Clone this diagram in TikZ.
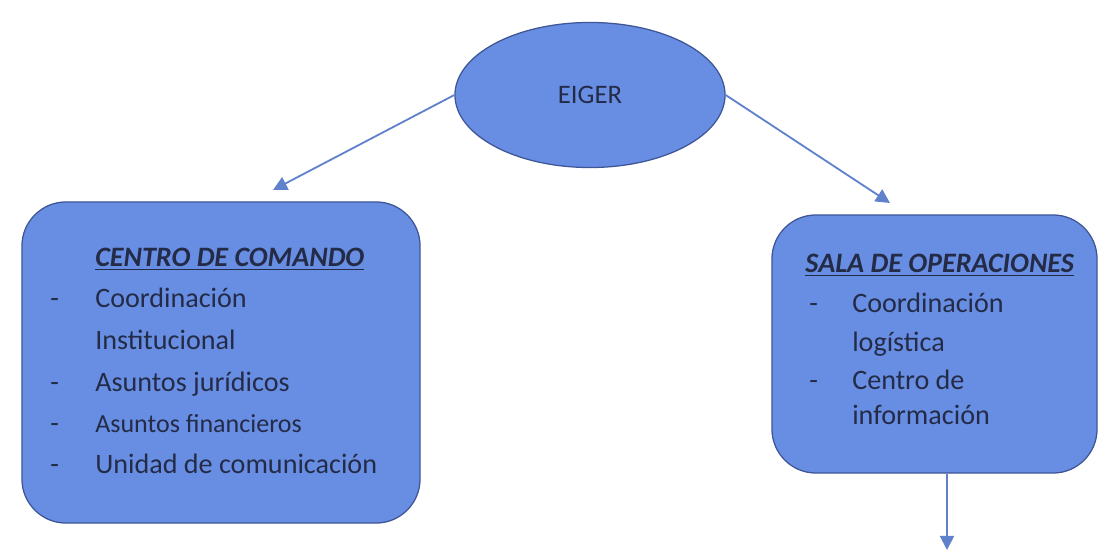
\documentclass[tikz,border=0pt]{standalone}
\usepackage{fontspec}
\setmainfont{Carlito}
\usetikzlibrary{shapes.geometric,arrows.meta}

\definecolor{unitfill}{RGB}{104,142,228}
\definecolor{unitedge}{RGB}{62,86,150}
\definecolor{linkblue}{RGB}{96,130,205}
\definecolor{inktext}{RGB}{36,43,70}

\begin{document}
\begin{tikzpicture}[x=0.025cm, y=-0.025cm]
          \tikzstyle{unit}=[draw=unitedge, fill=unitfill, line width=0.9pt, rounded corners=1.1cm]
          \tikzstyle{entry}=[anchor=base west, inner sep=0pt, text=inktext, font=\fontsize{20}{24}\selectfont]
          \tikzstyle{link}=[draw=linkblue, line width=1.3pt, -{Triangle[length=10pt, width=10pt]}]

          \useasboundingbox (0,0) rectangle (1101,551);

          \node (eiger) at (590,95) [ellipse, draw=unitedge, fill=unitfill, line width=0.9pt,
            minimum width=6.75cm, minimum height=3.625cm, text=inktext,
            font=\fontsize{19}{23}\selectfont] {EIGER};
          \node (cmd) at (221,362.5) [unit, minimum width=9.95cm, minimum height=8.025cm] {};
          \node (ops) at (934.5,344) [unit, minimum width=8.125cm, minimum height=6.45cm] {};

          % centro de comando
          \node (cmdT) at (95,267) [entry] {\textbf{\textit{\underline{CENTRO DE COMANDO}}}};
          \node (cmdD1) at (50,308) [entry] {-};
          \node (cmd1) at (95,308) [entry] {Coordinación};
          \node (cmd2) at (95,350) [entry] {Institucional};
          \node (cmdD3) at (50,392) [entry] {-};
          \node (cmd3) at (95,392) [entry] {Asuntos jurídicos};
          \node (cmdD4) at (50,432) [entry] {-};
          \node (cmd4) at (95,432) [entry, font=\fontsize{18.5}{22}\selectfont] {Asuntos financieros};
          \node (cmdD5) at (50,473) [entry] {-};
          \node (cmd5) at (95,473) [entry] {Unidad de comunicación};

          % sala de operaciones
          \node (opsT) at (805,273) [entry] {\textbf{\textit{\underline{SALA DE OPERACIONES}}}};
          \node (opsD1) at (809,313) [entry] {-};
          \node (ops1) at (852,313) [entry] {Coordinación};
          \node (ops2) at (852,352) [entry] {logística};
          \node (opsD3) at (809,390) [entry] {-};
          \node (ops3) at (852,390) [entry] {Centro de};
          \node (ops4) at (852,425) [entry] {información};

          \coordinate (cmdIn) at (273,190);
          \coordinate (opsIn) at (890,203);
          \coordinate (opsOut) at (947,550);

          \draw[link] (eiger.west) -- (cmdIn);
          \draw[link] (eiger.east) -- (opsIn);
          \draw[link] (ops.south -| opsOut) -- (opsOut);
        \end{tikzpicture}
\end{document}
